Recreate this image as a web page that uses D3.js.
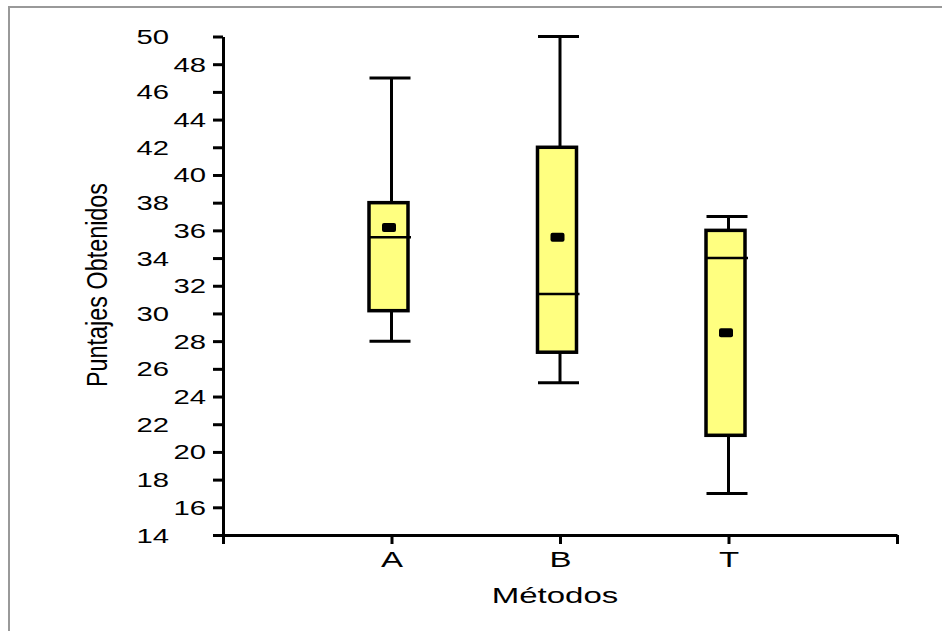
<!DOCTYPE html>
<html>
<head>
<meta charset="utf-8">
<script src="https://cdn.jsdelivr.net/npm/d3@7"></script>
<style>
  body { margin: 0; background: #fff; }
  text { font-family: "Liberation Sans", Arial, sans-serif; fill: #000; }
</style>
</head>
<body>
<svg id="chart" width="942" height="631"></svg>
<script>
// Datos
var metodos = ["A", "B", "T"];
var minimos = [28, 25, 17];
var cuartil1 = [30.2, 27.2, 21.2];
var medianas = [35.5, 31.4, 34];
var cuartil3 = [38, 42, 36];
var maximos = [47, 50, 37];
var medias = [36.2, 35.5, 28.6];
var yTicks = d3.range(14, 51, 2);

var svg = d3.select("#chart");
var stretch = 1.5; // the original text is wide

// marco gris
svg.append("path")
  .attr("d", "M9,631 V7 H942")
  .attr("fill", "none")
  .attr("stroke", "#999")
  .attr("stroke-width", 2);

var x = d3.scaleLinear().domain([0, 4]).range([223, 897]);
var y = d3.scaleLinear().domain([14, 50]).range([535, 36.5]);

// eje y
var yAxis = svg.append("g")
  .attr("transform", "translate(" + x(0) + ",0)")
  .call(d3.axisLeft(y).tickValues(yTicks).tickSize(10).tickSizeOuter(0).tickFormat(d3.format("d")));

yAxis.selectAll("text")
  .attr("x", 0)
  .attr("dy", "0.36em")
  .attr("font-size", 19.5)
  .attr("font-family", null)
  .attr("transform", function(d) {
    var off = ((d - 14) % 4 === 0) ? -54 : -17;
    return "translate(" + off + ",0) scale(" + stretch + ",1)";
  });

// eje x
var xAxis = svg.append("g")
  .attr("transform", "translate(0," + y(14) + ")")
  .call(d3.axisBottom(x).tickValues([0, 1, 2, 3, 4]).tickSize(9).tickSizeOuter(0)
    .tickFormat(function(d) { return (d >= 1 && d <= 3) ? metodos[d - 1] : ""; }));

xAxis.selectAll("text")
  .attr("y", 0)
  .attr("dy", 0)
  .attr("font-size", 22)
  .attr("font-family", null)
  .attr("transform", "translate(0,32) scale(" + stretch + ",1)");

svg.selectAll(".domain, .tick line")
  .attr("stroke", "#000")
  .attr("stroke-width", 3);

// titulos de ejes
svg.append("text")
  .attr("text-anchor", "middle")
  .attr("font-size", 22)
  .attr("transform", "translate(555,603) scale(" + stretch + ",1)")
  .text("Métodos");

svg.append("text")
  .attr("text-anchor", "middle")
  .attr("font-size", 23.4)
  .attr("transform", "translate(107,285) scale(1.25,1) rotate(-90)")
  .text("Puntajes Obtenidos");

// cajas
var boxW = 39, capW = 41, shift = -3;
var g = svg.append("g");

metodos.forEach(function(m, i) {
  var cx = x(i + 1);
  var bx = cx + shift;

  // bigotes
  g.append("line")
    .attr("x1", cx).attr("x2", cx)
    .attr("y1", y(maximos[i])).attr("y2", y(cuartil3[i]))
    .attr("stroke", "#000").attr("stroke-width", 3);
  g.append("line")
    .attr("x1", cx).attr("x2", cx)
    .attr("y1", y(cuartil1[i])).attr("y2", y(minimos[i]))
    .attr("stroke", "#000").attr("stroke-width", 3);
  [maximos[i], minimos[i]].forEach(function(v) {
    g.append("line")
      .attr("x1", cx - 1.5 - capW / 2).attr("x2", cx - 1.5 + capW / 2)
      .attr("y1", y(v)).attr("y2", y(v))
      .attr("stroke", "#000").attr("stroke-width", 3);
  });

  // caja
  g.append("rect")
    .attr("x", bx - boxW / 2)
    .attr("y", y(cuartil3[i]))
    .attr("width", boxW)
    .attr("height", y(cuartil1[i]) - y(cuartil3[i]))
    .attr("fill", "#ffff80")
    .attr("stroke", "#000")
    .attr("stroke-width", 3.5);

  // mediana
  g.append("line")
    .attr("x1", bx - boxW / 2).attr("x2", bx + boxW / 2 + 3)
    .attr("y1", y(medianas[i])).attr("y2", y(medianas[i]))
    .attr("stroke", "#000").attr("stroke-width", 2.5);

  // media
  g.append("rect")
    .attr("x", cx - 2.5 - 7)
    .attr("y", y(medias[i]) - 4.5)
    .attr("width", 14)
    .attr("height", 9)
    .attr("rx", 2)
    .attr("fill", "#000");
});
</script>
</body>
</html>
